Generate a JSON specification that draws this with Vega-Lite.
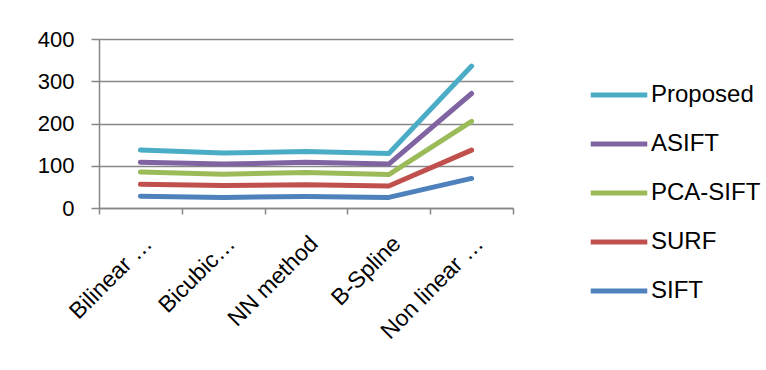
{
  "$schema": "https://vega.github.io/schema/vega-lite/v6.json",
  "autosize": "none",
  "width": 414,
  "height": 169,
  "padding": {"left": 99, "top": 39, "right": 253, "bottom": 162},
  "background": "white",
  "config": {
    "font": "Liberation Sans",
    "view": {"stroke": null}
  },
  "data": {
    "values": [
      {"method": "Bilinear …", "series": "SIFT", "value": 28},
      {"method": "Bicubic…", "series": "SIFT", "value": 25},
      {"method": "NN method", "series": "SIFT", "value": 27},
      {"method": "B-Spline", "series": "SIFT", "value": 25},
      {"method": "Non linear …", "series": "SIFT", "value": 70},
      {"method": "Bilinear …", "series": "SURF", "value": 56},
      {"method": "Bicubic…", "series": "SURF", "value": 53},
      {"method": "NN method", "series": "SURF", "value": 55},
      {"method": "B-Spline", "series": "SURF", "value": 52},
      {"method": "Non linear …", "series": "SURF", "value": 137},
      {"method": "Bilinear …", "series": "PCA-SIFT", "value": 85},
      {"method": "Bicubic…", "series": "PCA-SIFT", "value": 80},
      {"method": "NN method", "series": "PCA-SIFT", "value": 84},
      {"method": "B-Spline", "series": "PCA-SIFT", "value": 79},
      {"method": "Non linear …", "series": "PCA-SIFT", "value": 205},
      {"method": "Bilinear …", "series": "ASIFT", "value": 108},
      {"method": "Bicubic…", "series": "ASIFT", "value": 104},
      {"method": "NN method", "series": "ASIFT", "value": 108},
      {"method": "B-Spline", "series": "ASIFT", "value": 104},
      {"method": "Non linear …", "series": "ASIFT", "value": 271},
      {"method": "Bilinear …", "series": "Proposed", "value": 137},
      {"method": "Bicubic…", "series": "Proposed", "value": 130},
      {"method": "NN method", "series": "Proposed", "value": 134},
      {"method": "B-Spline", "series": "Proposed", "value": 129},
      {"method": "Non linear …", "series": "Proposed", "value": 336}
    ]
  },
  "mark": {"type": "line", "strokeWidth": 5, "strokeCap": "round", "strokeJoin": "round"},
  "encoding": {
    "x": {
      "field": "method",
      "type": "nominal",
      "sort": ["Bilinear …", "Bicubic…", "NN method", "B-Spline", "Non linear …"],
      "scale": {"type": "band", "paddingInner": 0, "paddingOuter": 0},
      "axis": {
        "title": null,
        "labelAngle": -45,
        "labelFontSize": 23,
        "labelColor": "black",
        "labelPadding": 18,
        "tickBand": "extent",
        "tickSize": 6,
        "tickColor": "#868686",
        "domainColor": "#868686",
        "domainWidth": 1.5,
        "tickWidth": 1.5,
        "grid": false,
        "labelLimit": 0
      }
    },
    "y": {
      "field": "value",
      "type": "quantitative",
      "scale": {"domain": [0, 400], "nice": false},
      "axis": {
        "title": null,
        "values": [0, 100, 200, 300, 400],
        "labelFontSize": 22,
        "labelColor": "black",
        "labelPadding": 17,
        "tickSize": 8,
        "tickColor": "#868686",
        "tickWidth": 1.5,
        "domainColor": "#868686",
        "domainWidth": 1.5,
        "gridColor": "#868686",
        "gridWidth": 1.5
      }
    },
    "color": {
      "field": "series",
      "type": "nominal",
      "sort": ["Proposed", "ASIFT", "PCA-SIFT", "SURF", "SIFT"],
      "scale": {
        "domain": ["Proposed", "ASIFT", "PCA-SIFT", "SURF", "SIFT"],
        "range": ["#4BACC6", "#8064A2", "#9BBB59", "#C0504D", "#4F81BD"]
      },
      "legend": {
        "title": null,
        "orient": "none",
        "legendX": 489,
        "legendY": 25,
        "symbolType": "stroke",
        "symbolSize": 3200,
        "symbolStrokeWidth": 5,
        "labelFontSize": 24,
        "labelColor": "black",
        "labelOffset": 1,
        "rowPadding": 6
      }
    }
  }
}
